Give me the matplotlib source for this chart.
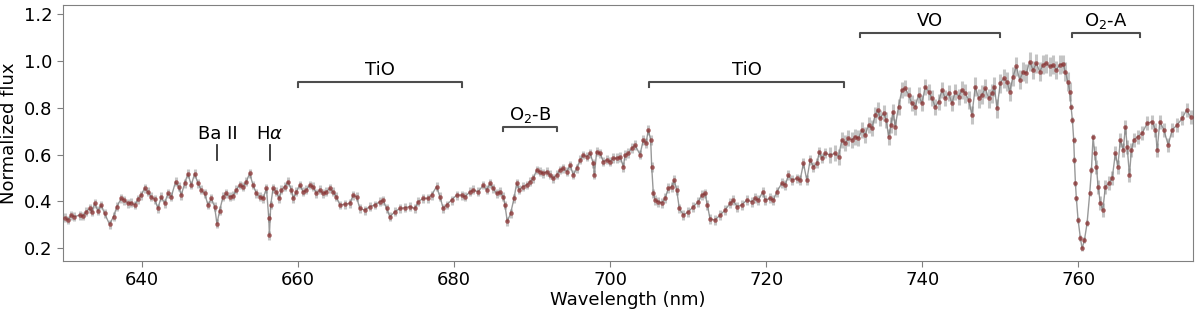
import numpy as np
import matplotlib.pyplot as plt

# spectrum (wavelength in nm, normalized flux)
wavelength = [
    630.2, 630.55, 630.98, 631.4, 632.05, 632.47, 632.9, 633.33, 633.63, 633.97,
    634.4, 634.82, 635.25, 635.89, 636.4, 636.83, 637.39, 637.8, 638.24, 638.67,
    639.1, 639.52, 639.95, 640.38, 640.8, 641.23, 641.66, 642.09, 642.52, 642.94,
    643.37, 643.8, 644.35, 644.74, 645.08, 645.51, 645.93, 646.36, 646.79, 647.22,
    647.64, 648.07, 648.5, 648.93, 649.35, 649.65, 649.99, 650.42, 650.85, 651.28,
    651.7, 652.13, 652.56, 652.99, 653.41, 653.84, 654.27, 654.7, 655.13, 655.56,
    655.99, 656.29, 656.37, 656.54, 656.84, 657.27, 657.61, 657.91, 658.34, 658.76,
    659.19, 659.41, 659.83, 660.26, 660.69, 661.11, 661.54, 661.97, 662.4, 662.82,
    663.25, 663.68, 664.1, 664.53, 664.96, 665.39, 666.03, 666.67, 667.1, 667.53,
    667.95, 668.59, 669.23, 669.87, 670.52, 670.94, 671.37, 671.8, 672.44, 673.08,
    673.72, 674.36, 675.0, 675.43, 676.07, 676.71, 677.14, 677.78, 678.21, 678.64,
    679.06, 679.7, 680.35, 680.99, 681.42, 682.06, 682.48, 683.12, 683.77, 684.19,
    684.62, 685.05, 685.47, 685.9, 686.33, 686.54, 686.84, 687.27, 687.7, 688.04,
    688.38, 688.81, 689.32, 689.75, 690.18, 690.6, 691.03, 691.46, 691.89, 692.31,
    692.74, 693.17, 693.6, 694.02, 694.45, 694.88, 695.3, 695.73, 696.16, 696.59,
    697.01, 697.44, 697.87, 698.0, 698.29, 698.72, 699.15, 699.58, 700.0, 700.43,
    700.86, 701.29, 701.71, 701.93, 702.35, 702.78, 703.21, 703.84, 704.27, 704.61,
    704.91, 705.21, 705.34, 705.55, 705.77, 706.19, 706.62, 707.05, 707.47, 707.9,
    708.2, 708.54, 708.88, 709.4, 710.04, 710.68, 711.32, 711.75, 712.18, 712.47,
    712.82, 713.46, 714.1, 714.74, 715.38, 715.81, 716.24, 716.88, 717.52, 718.16,
    718.59, 719.01, 719.57, 719.87, 720.51, 720.94, 721.36, 722.0, 722.43, 722.86,
    723.29, 723.93, 724.35, 724.78, 725.21, 725.64, 726.06, 726.49, 726.83, 727.13,
    727.56, 728.2, 728.84, 729.27, 729.7, 730.13, 730.55, 730.98, 731.41, 731.83,
    732.26, 732.69, 733.12, 733.54, 733.97, 734.27, 734.61, 735.04, 735.38, 735.68,
    735.98, 736.24, 736.54, 736.96, 737.39, 737.82, 738.24, 738.67, 739.1, 739.53,
    739.95, 740.38, 740.81, 741.24, 741.66, 742.09, 742.52, 742.95, 743.37, 743.8,
    744.23, 744.66, 745.08, 745.51, 745.94, 746.36, 746.79, 747.22, 747.65, 748.07,
    748.5, 748.93, 749.23, 749.57, 750.0, 750.43, 750.85, 751.2, 751.62, 752.05,
    752.48, 752.91, 753.33, 753.76, 754.19, 754.62, 755.04, 755.47, 755.9, 756.32,
    756.75, 757.18, 757.61, 758.03, 758.33, 758.63, 758.89, 759.06, 759.23, 759.4,
    759.49, 759.62, 759.74, 759.96, 760.26, 760.47, 760.77, 761.11, 761.45, 761.67,
    761.88, 762.09, 762.31, 762.52, 762.82, 763.12, 763.46, 763.89, 764.32, 764.74,
    765.04, 765.38, 765.73, 766.03, 766.24, 766.54, 766.79, 767.09, 767.61, 768.16,
    768.8, 769.44, 769.87, 770.09, 770.43, 770.94, 771.5, 772.01, 772.65, 773.29,
    773.85, 774.36,
]
flux = [
    0.330, 0.321, 0.342, 0.335, 0.342, 0.338, 0.356, 0.370, 0.356, 0.392,
    0.360, 0.385, 0.349, 0.303, 0.335, 0.378, 0.413, 0.406, 0.392, 0.395,
    0.385, 0.409, 0.427, 0.456, 0.441, 0.420, 0.409, 0.371, 0.420, 0.392,
    0.434, 0.420, 0.484, 0.463, 0.427, 0.477, 0.518, 0.470, 0.518, 0.477,
    0.449, 0.434, 0.385, 0.413, 0.378, 0.305, 0.360, 0.420, 0.434, 0.420,
    0.424, 0.449, 0.470, 0.463, 0.484, 0.520, 0.470, 0.434, 0.420, 0.413,
    0.456, 0.330, 0.255, 0.385, 0.456, 0.441, 0.413, 0.449, 0.463, 0.484,
    0.449, 0.413, 0.441, 0.470, 0.441, 0.449, 0.470, 0.463, 0.434, 0.449,
    0.434, 0.441, 0.456, 0.441, 0.420, 0.385, 0.388, 0.392, 0.427, 0.420,
    0.370, 0.363, 0.378, 0.385, 0.399, 0.406, 0.370, 0.335, 0.356, 0.370,
    0.373, 0.378, 0.370, 0.399, 0.413, 0.413, 0.427, 0.463, 0.420, 0.370,
    0.385, 0.406, 0.427, 0.427, 0.420, 0.441, 0.449, 0.441, 0.470, 0.449,
    0.477, 0.456, 0.434, 0.441, 0.420, 0.385, 0.315, 0.349, 0.413, 0.477,
    0.449, 0.463, 0.470, 0.484, 0.498, 0.534, 0.527, 0.520, 0.527, 0.513,
    0.498, 0.513, 0.534, 0.541, 0.527, 0.555, 0.513, 0.541, 0.577, 0.598,
    0.591, 0.605, 0.562, 0.513, 0.612, 0.605, 0.570, 0.577, 0.570, 0.584,
    0.584, 0.591, 0.548, 0.598, 0.605, 0.626, 0.640, 0.600, 0.662, 0.648,
    0.704, 0.662, 0.548, 0.434, 0.406, 0.399, 0.394, 0.413, 0.456, 0.463,
    0.491, 0.449, 0.370, 0.342, 0.356, 0.378, 0.399, 0.427, 0.434, 0.385,
    0.325, 0.321, 0.342, 0.363, 0.392, 0.406, 0.378, 0.385, 0.406, 0.399,
    0.413, 0.406, 0.441, 0.406, 0.413, 0.406, 0.441, 0.477, 0.470, 0.512,
    0.491, 0.498, 0.491, 0.562, 0.491, 0.577, 0.548, 0.562, 0.612, 0.584,
    0.605, 0.598, 0.605, 0.591, 0.662, 0.648, 0.669, 0.662, 0.676, 0.669,
    0.705, 0.683, 0.726, 0.712, 0.768, 0.790, 0.754, 0.776, 0.747, 0.676,
    0.726, 0.783, 0.719, 0.804, 0.875, 0.882, 0.854, 0.818, 0.804, 0.854,
    0.818, 0.889, 0.868, 0.839, 0.804, 0.825, 0.875, 0.839, 0.861, 0.818,
    0.868, 0.847, 0.875, 0.861, 0.832, 0.768, 0.889, 0.839, 0.854, 0.882,
    0.839, 0.861, 0.889, 0.797, 0.904, 0.925, 0.911, 0.868, 0.932, 0.975,
    0.918, 0.953, 0.946, 0.996, 0.960, 0.989, 0.953, 0.982, 0.989, 0.975,
    0.982, 0.960, 0.982, 0.986, 0.953, 0.911, 0.868, 0.804, 0.747, 0.662,
    0.577, 0.477, 0.413, 0.321, 0.243, 0.200, 0.235, 0.307, 0.434, 0.534,
    0.676, 0.605, 0.548, 0.463, 0.392, 0.363, 0.463, 0.477, 0.498, 0.605,
    0.548, 0.662, 0.619, 0.719, 0.633, 0.513, 0.619, 0.662, 0.676, 0.690,
    0.733, 0.740, 0.705, 0.619, 0.740, 0.705, 0.641, 0.705, 0.726, 0.754,
    0.790, 0.761,
]

# flux uncertainty, read per wavelength range
err_start = [630, 700, 728, 745, 759, 762]
err_level = [0.019, 0.021, 0.034, 0.040, 0.012, 0.030]

# line features: label, wavelength, label baseline, tick bottom, tick top
lines = [("Ba II", 649.7, 0.666, 0.577, 0.640),
         (r"H$\alpha$", 656.4, 0.666, 0.577, 0.640)]
# bands: label, start, end, bracket height
bands = [("TiO", 660.0, 681.0, 0.907),
         (r"O$_2$-B", 686.3, 693.2, 0.719),
         ("TiO", 705.0, 730.0, 0.907),
         ("VO", 732.0, 750.0, 1.119),
         (r"O$_2$-A", 759.2, 767.9, 1.119)]

wl = np.array(wavelength)
fl = np.array(flux)
err = np.array(err_level)[np.searchsorted(err_start, wl, side="right") - 1]

plt.rcParams["font.size"] = 13
fig = plt.figure(figsize=(12, 3.12), dpi=100)
ax = fig.add_axes([0.0523, 0.164, 0.942, 0.820])

ax.plot(wl, fl, color="0.6", lw=1.0, zorder=1)
ax.errorbar(wl, fl, yerr=err, fmt="none", ecolor="0.5", alpha=0.45, elinewidth=2.2, zorder=2)
ax.plot(wl, fl, "o", ms=3.3, color="#8b2a2a", alpha=0.7, mew=0, zorder=3)

for name, x, ytxt, y0, y1 in lines:
    ax.plot([x, x], [y0, y1], color="0.2", lw=1.3)
    ax.text(x, ytxt, name, ha="center", va="baseline")

for name, x0, x1, y in bands:
    ax.plot([x0, x0, x1, x1], [y - 0.02, y, y, y - 0.02], color="0.3", lw=1.5)
    ax.text((x0 + x1) / 2, y + 0.03, name, ha="center", va="baseline")

ax.set_xlim(629.9, 774.7)
ax.set_ylim(0.147, 1.237)
ax.set_xticks(np.arange(640, 761, 20))
ax.set_yticks([0.2, 0.4, 0.6, 0.8, 1.0, 1.2])
ax.set_xlabel("Wavelength (nm)", labelpad=1)
ax.set_ylabel("Normalized flux", labelpad=4)
for s in ax.spines.values():
    s.set_color("0.5")
ax.tick_params(color="0.5", length=4)

fig.savefig("out.png", dpi=100)
